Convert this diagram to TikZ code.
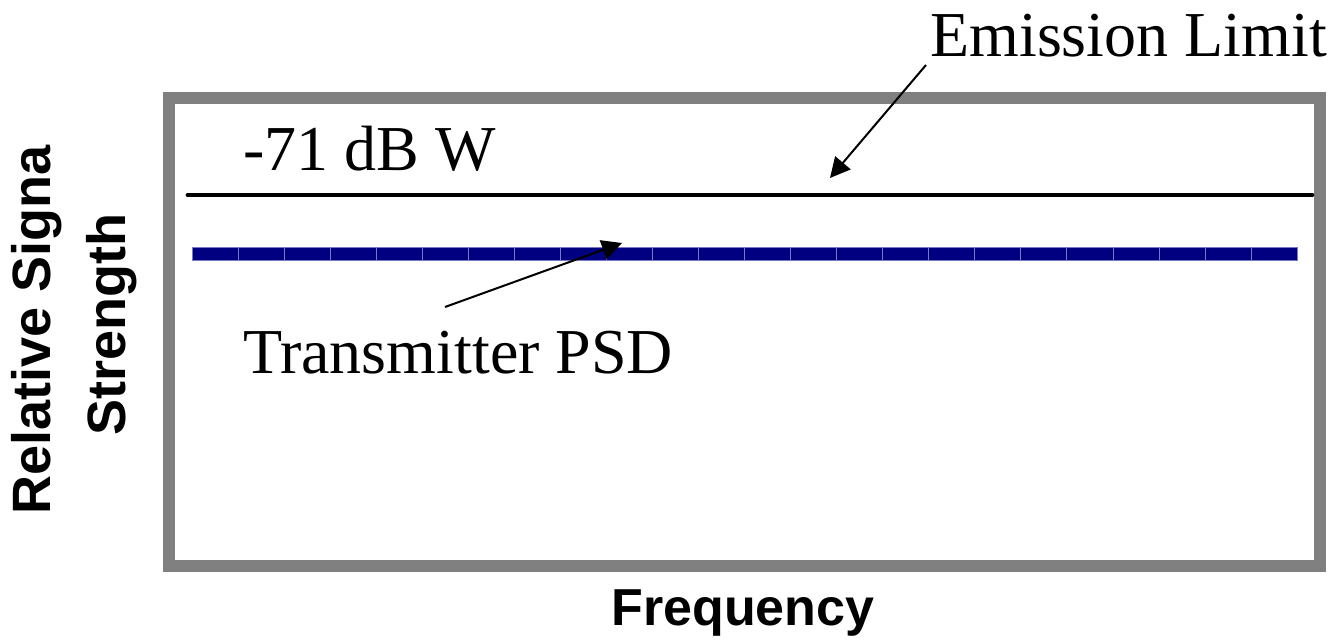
\documentclass[tikz,border=0pt]{standalone}
\usepackage{fontspec}
\setmainfont{Liberation Serif}
\setsansfont{Liberation Sans}
\usetikzlibrary{arrows.meta,positioning}
\definecolor{framegray}{RGB}{128,128,128}
\definecolor{psdnavy}{RGB}{0,0,128}
\definecolor{psdedge}{RGB}{120,120,195}
\def \segW {46.04}
\tikzset{
	labeltext/.style= {inner sep=0pt, font=\fontsize{32}{38}\selectfont},
	axislabel/.style= {inner sep=0pt, font=\sffamily\bfseries\fontsize{26}{31}\selectfont},
	plotframe/.style= {draw=framegray, line width=6pt},
	limitline/.style= {draw=black, line width=2.4pt, line cap=round},
	psdseg/.style= {fill=psdnavy, draw=psdedge, line width=0.3pt},
	pointer/.style= {draw=black, line width=1pt, -{Triangle[length=10pt,width=10pt]}}
}
\begin{document}
\begin{tikzpicture}[x=0.5pt,y=-0.5pt]
\useasboundingbox (0,0) rectangle (1344,642);

%%%%%%%%%%%%%%%%%%%%% Frame and lines %%%%%%%%%%%%%%%%%%%%%
	\draw [plotframe] (169,98) rectangle (1320,565.5);
	\coordinate (limitL) at (188,195);
	\coordinate (limitR) at (1312,195);
	\draw [limitline] (limitL) -- (limitR);
	\foreach \i in {0,...,23}
		\draw [psdseg] (192+\i*\segW,247.5) rectangle (192+\i*\segW+\segW,260.5);

%%%%%%%%%%%%%%%%%%%%% Nodes %%%%%%%%%%%%%%%%%%%%%
	\node [labeltext, anchor=base west] (emission) at (930,57) {Emission Limit};
	\node [labeltext, anchor=base west] (level) at (243,170) {-71 dB W};
	\node [labeltext, anchor=base west] (psd) at (243,373) {Transmitter PSD};
	\node [axislabel, anchor=base] (freq) at (743,625) {Frequency};
	\node [axislabel, anchor=base, rotate=90, font=\sffamily\bfseries\fontsize{27}{32}\selectfont] (ylabA) at (50,330) {Relative Signa};
	\node [axislabel, anchor=base, rotate=90, font=\sffamily\bfseries\fontsize{27}{32}\selectfont] (ylabB) at (125,325) {Strength};

%%%%%%%%%%%%%%%%%%%%% Pointers %%%%%%%%%%%%%%%%%%%%%
	\coordinate (emTail) at (926,65);
	\coordinate (emTip) at (830,178);
	\coordinate (psdTail) at (445,307);
	\coordinate (psdTip) at (622,243);
	\draw [pointer] (emTail) -- (emTip);
	\draw [pointer] (psdTail) -- (psdTip);

\end{tikzpicture}
\end{document}
